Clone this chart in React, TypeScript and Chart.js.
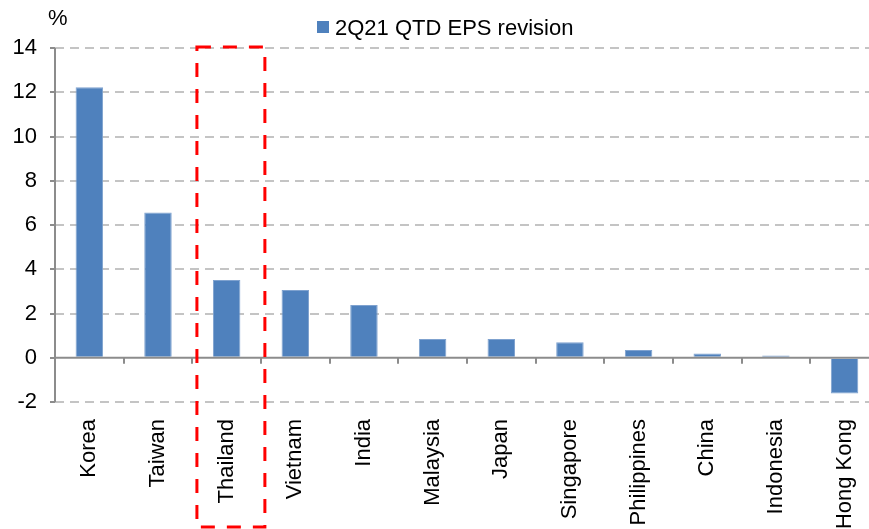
import React, { useEffect, useRef } from "react";
import { Chart, registerables } from "chart.js";

Chart.register(...registerables);

const categories = [
  "Korea",
  "Taiwan",
  "Thailand",
  "Vietnam",
  "India",
  "Malaysia",
  "Japan",
  "Singapore",
  "Philippines",
  "China",
  "Indonesia",
  "Hong Kong",
];
const epsRevision = [12.23, 6.57, 3.51, 3.06, 2.38, 0.85, 0.85, 0.7, 0.35, 0.19, 0.1, -1.62];
const seriesName = "2Q21 QTD EPS revision";
const unitLabel = "%";
const yMin = -2;
const yMax = 14;
const yStep = 2;
const highlightCategory = "Thailand";

const FONT = "'Liberation Sans', Arial, Helvetica, sans-serif";
const BAR_COLOR = "#4F81BD";
const AXIS_COLOR = "#8C8C8C";
const GRID_COLOR = "#C4C4C4";

const overlayPlugin = {
  id: "overlay",
  afterDatasetsDraw(chart: any) {
    const { ctx, chartArea, scales } = chart;
    const x = scales.x;
    const y = scales.y;
    const y0 = y.getPixelForValue(0);
    const n = categories.length;
    const w = (chartArea.right - chartArea.left) / n;
    ctx.save();
    ctx.strokeStyle = AXIS_COLOR;
    ctx.lineWidth = 2;
    ctx.setLineDash([]);
    // y axis line
    ctx.beginPath();
    ctx.moveTo(chartArea.left, y.getPixelForValue(yMax));
    ctx.lineTo(chartArea.left, y.getPixelForValue(yMin));
    ctx.stroke();
    // zero line
    ctx.beginPath();
    ctx.moveTo(chartArea.left, y0);
    ctx.lineTo(chartArea.right, y0);
    ctx.stroke();
    // category boundary tick marks
    for (let i = 1; i <= n; i++) {
      const px = Math.round(x.getPixelForValue(i - 1) + w / 2);
      ctx.beginPath();
      ctx.moveTo(px, y0);
      ctx.lineTo(px, y0 + 6);
      ctx.stroke();
    }
    ctx.restore();
  },
  afterDraw(chart: any) {
    const { ctx, scales } = chart;
    const x = scales.x;
    const y = scales.y;
    const w = (chart.chartArea.right - chart.chartArea.left) / categories.length;
    ctx.save();
    // highlight rectangle
    const idx = categories.indexOf(highlightCategory);
    const c = x.getPixelForValue(idx);
    const left = c - 0.433 * w;
    const right = c + 0.557 * w;
    const top = y.getPixelForValue(yMax) - 1;
    const bottom = 527;
    ctx.strokeStyle = "#FF0000";
    ctx.lineWidth = 3;
    ctx.setLineDash([14, 12]);
    ctx.strokeRect(left, top, right - left, bottom - top);
    ctx.setLineDash([]);
    // legend
    ctx.fillStyle = BAR_COLOR;
    ctx.fillRect(317, 21, 12, 12);
    ctx.fillStyle = "#000";
    ctx.font = `22px ${FONT}`;
    ctx.textAlign = "left";
    ctx.textBaseline = "alphabetic";
    ctx.fillText(seriesName, 335, 35);
    // unit label
    ctx.fillText(unitLabel, 48, 25);
    ctx.restore();
  },
};

export default function App() {
  const canvasRef = useRef<HTMLCanvasElement | null>(null);

  useEffect(() => {
    const canvas = canvasRef.current;
    if (!canvas) return;
    const chart = new Chart(canvas, {
      type: "bar",
      data: {
        labels: categories,
        datasets: [
          {
            label: seriesName,
            data: epsRevision,
            backgroundColor: BAR_COLOR,
            borderColor: "#7FA2CF",
            borderWidth: 1,
            categoryPercentage: 1,
            barPercentage: 0.4,
          },
        ],
      },
      options: {
        responsive: false,
        animation: false,
        devicePixelRatio: 1,
        layout: { padding: { top: 48, right: 1, left: 0, bottom: 0 } },
        plugins: {
          legend: { display: false },
          tooltip: { enabled: false },
          title: { display: false },
        },
        scales: {
          x: {
            type: "category",
            offset: true,
            grid: { display: false },
            border: { display: false },
            afterFit: (scale: any) => {
              scale.height = 127;
            },
            ticks: {
              autoSkip: false,
              maxRotation: 90,
              minRotation: 90,
              padding: 9,
              color: "#000",
              font: { family: FONT, size: 22 },
            },
          },
          y: {
            min: yMin,
            max: yMax,
            afterFit: (scale: any) => {
              scale.width = 55;
            },
            border: { display: false, dash: [9, 6] },
            grid: {
              color: (ctx: any) => (ctx.tick && ctx.tick.value === 0 ? "rgba(0,0,0,0)" : GRID_COLOR),
              lineWidth: 2,
              tickLength: 5,
              tickColor: AXIS_COLOR,
              tickBorderDash: [],
            },
            ticks: {
              stepSize: yStep,
              padding: 13,
              color: "#000",
              font: { family: FONT, size: 22 },
            },
          },
        },
      },
      plugins: [overlayPlugin],
    });
    return () => chart.destroy();
  }, []);

  return (
    <div
      style={{
        position: "absolute",
        left: 0,
        top: 0,
        width: 869,
        height: 529,
        overflow: "hidden",
        background: "#fff",
      }}
    >
      <canvas ref={canvasRef} width={880} height={529} style={{ display: "block", width: 880, height: 529 }} />
    </div>
  );
}
